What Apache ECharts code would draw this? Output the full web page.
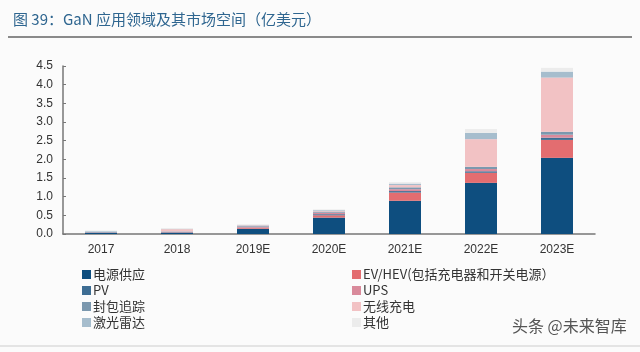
<!DOCTYPE html>
<html><head><meta charset="utf-8">
<script src="https://cdn.jsdelivr.net/npm/echarts@6/dist/echarts.min.js"></script>
<style>html,body{margin:0;padding:0;background:#fbfbfb}#c{width:640px;height:352px}</style>
</head><body><div id="c"></div>
<script>
const categories = ['2017','2018','2019E','2020E','2021E','2022E','2023E'];
const seriesNames = ['电源供应','EV/HEV(包括充电器和开关电源）','PV','UPS','封包追踪','无线充电','激光雷达','其他'];
const powerSupply = [0.03, 0.03, 0.14, 0.44, 0.89, 1.37, 2.04];
const evHev       = [0.005, 0.01, 0.02, 0.06, 0.22, 0.27, 0.48];
const pv          = [0.005, 0.01, 0.01, 0.03, 0.04, 0.04, 0.06];
const ups         = [0.005, 0.01, 0.02, 0.04, 0.05, 0.06, 0.08];
const packetTrack = [0.01, 0.01, 0.02, 0.03, 0.05, 0.06, 0.08];
const wireless    = [0.0, 0.06, 0.02, 0.02, 0.06, 0.74, 1.45];
const lidar       = [0.02, 0.01, 0.01, 0.02, 0.04, 0.17, 0.16];
const others      = [0.02, 0.02, 0.02, 0.02, 0.04, 0.10, 0.10];
const yTicks = [0, 0.5, 1.0, 1.5, 2.0, 2.5, 3.0, 3.5, 4.0, 4.5];

const colors = ['#0e4e7f','#e36d70','#3d6d93','#d98a9b','#7b98ae','#f2c2c4','#a6bdcd','#ececec'];
const seriesData = [powerSupply, evHev, pv, ups, packetTrack, wireless, lidar, others];

const chart = echarts.init(document.getElementById('c'));
const legendCommon = {orient:'vertical', top:263, itemWidth:9, itemHeight:9, itemGap:3, icon:'rect',
  textStyle:{fontSize:13, color:'#333', fontFamily:'Noto Sans CJK SC', padding:[0,0,0,-3]}};
chart.setOption({
  backgroundColor:'#fbfbfb',
  animation:false,
  title:{text:'图 39：GaN 应用领域及其市场空间（亿美元）', left:8, top:7,
    textStyle:{fontSize:15, fontWeight:'normal', color:'#2f6690', fontFamily:'Noto Sans CJK SC'}},
  graphic:[
    {type:'line', shape:{x1:8,y1:37,x2:632,y2:37}, style:{stroke:'#8a8a8a', lineWidth:2}},
    {type:'line', shape:{x1:0,y1:346,x2:640,y2:346}, style:{stroke:'#e4e4e4', lineWidth:2}},
    {type:'text', left:512, top:318, style:{text:'头条 @未来智库', fontSize:16, fill:'#555', fontFamily:'Noto Sans CJK SC'}}
  ],
  legend:[
    Object.assign({left:77, data:[seriesNames[0],seriesNames[2],seriesNames[4],seriesNames[6]]}, legendCommon),
    Object.assign({left:347, data:[seriesNames[1],seriesNames[3],seriesNames[5],seriesNames[7]]}, legendCommon)
  ],
  grid:{left:63, right:45, top:66, bottom:118},
  xAxis:{type:'category', data:categories,
    axisLine:{lineStyle:{color:'#777', width:1.5}},
    axisTick:{inside:true, length:4, lineStyle:{color:'#777'}},
    axisLabel:{color:'#333', fontSize:12, margin:10, fontFamily:'Liberation Sans'}},
  yAxis:{type:'value', min:0, max:4.5, interval:0.5,
    splitLine:{show:false},
    axisLine:{show:true, lineStyle:{color:'#777', width:1.5}},
    axisTick:{show:true, inside:true, length:3, lineStyle:{color:'#777'}},
    axisLabel:{color:'#333', fontSize:12, margin:10, fontFamily:'Liberation Sans',
      formatter:v=>yTicks.includes(v)?v.toFixed(1):''}},
  series: seriesNames.map((n,i)=>({name:n, type:'bar', stack:'total', barWidth:32,
    itemStyle:{color:colors[i]}, data:seriesData[i]}))
});
</script></body></html>
